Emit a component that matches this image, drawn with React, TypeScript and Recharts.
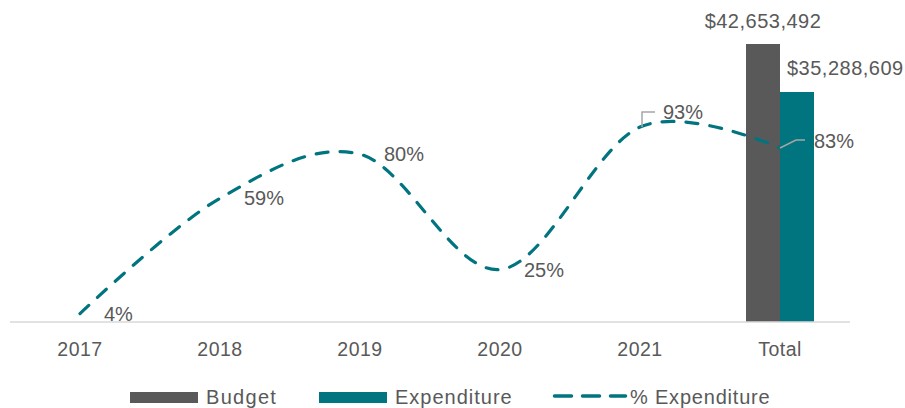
import React from 'react';
import { ComposedChart, Bar, Line, XAxis, YAxis, Legend, LabelList } from 'recharts';

const categories = ['2017', '2018', '2019', '2020', '2021', 'Total'];
const budget: (number | null)[] = [null, null, null, null, null, 42653492];
const expenditure: (number | null)[] = [null, null, null, null, null, 35288609];
const pctExpenditure = [4, 59, 80, 25, 93, 83];
const seriesNames = ['Budget', 'Expenditure', '% Expenditure'];

const data = categories.map((c, i) => ({
  category: c,
  budget: budget[i],
  expenditure: expenditure[i],
  pct: pctExpenditure[i],
}));

const FONT = "'Liberation Sans', Arial, sans-serif";
const TEXT = '#595959';
const GREY = '#595959';
const TEAL = '#00747F';

// Excel-like smoothed line (cardinal spline, tension 0)
function smoothCurve(context: any) {
  let x0 = NaN, x1 = NaN, x2 = NaN, y0 = NaN, y1 = NaN, y2 = NaN;
  let pt = 0;
  let line: number = NaN;
  const k = 1 / 6;
  const seg = (x: number, y: number) => {
    context.bezierCurveTo(
      x1 + k * (x2 - x0),
      y1 + k * (y2 - y0),
      x2 + k * (x1 - x),
      y2 + k * (y1 - y),
      x2,
      y2
    );
  };
  return {
    areaStart() { line = 0; },
    areaEnd() { line = NaN; },
    lineStart() { x0 = x1 = x2 = y0 = y1 = y2 = NaN; pt = 0; },
    lineEnd() {
      switch (pt) {
        case 2: context.lineTo(x2, y2); break;
        case 3: seg(x1, y1); break;
      }
      if (line || (line !== 0 && pt === 1)) context.closePath();
      line = 1 - line;
    },
    point(x: number, y: number) {
      x = +x; y = +y;
      switch (pt) {
        case 0: pt = 1; line ? context.lineTo(x, y) : context.moveTo(x, y); break;
        case 1: pt = 2; x1 = x; y1 = y; break;
        case 2: pt = 3; seg(x, y); break;
        default: seg(x, y); break;
      }
      x0 = x1; x1 = x2; x2 = x;
      y0 = y1; y1 = y2; y2 = y;
    },
  };
}

const money = (v: number) => '$' + v.toLocaleString('en-US');

const BudgetLabel = (props: any) => {
  const { x, y, width, value } = props;
  if (value == null) return null;
  return (
    <text x={x + width / 2} y={y - 23} dy="0.35em" textAnchor="middle" fill={TEXT}
      fontFamily={FONT} fontSize={20} letterSpacing={0.5}>
      {money(value)}
    </text>
  );
};

const ExpLabel = (props: any) => {
  const { x, y, value } = props;
  if (value == null) return null;
  return (
    <text x={x + 7} y={y - 24} dy="0.35em" textAnchor="start" fill={TEXT}
      fontFamily={FONT} fontSize={20} letterSpacing={0.5}>
      {money(value)}
    </text>
  );
};

const PctLabel = (props: any) => {
  const { x, y, value, index } = props;
  const txt = `${value}%`;
  const common = { fill: TEXT, fontFamily: FONT, fontSize: 20, dy: '0.35em' } as any;
  if (index === 4) {
    return (
      <g>
        <path d={`M${x + 2},${y} V${y - 15} H${x + 15}`} stroke="#A6A6A6" strokeWidth={1.5} fill="none" />
        <text x={x + 23} y={y - 15} {...common}>{txt}</text>
      </g>
    );
  }
  if (index === 5) {
    return (
      <g>
        <path d={`M${x},${y} L${x + 16},${y - 8} H${x + 25}`} stroke="#A6A6A6" strokeWidth={1.5} fill="none" />
        <text x={x + 34} y={y - 7} {...common}>{txt}</text>
      </g>
    );
  }
  return <text x={x + 24} y={y} {...common}>{txt}</text>;
};

const renderLegend = () => (
  <div style={{ width: 905, height: 22, position: 'relative' }}>
    <svg width={905} height={22} style={{ display: 'block' }}>
      <rect x={130} y={6} width={68} height={11} fill={GREY} />
      <text x={206} y={17.5} fill={TEXT} fontFamily={FONT} fontSize={20} letterSpacing={1.3}>{seriesNames[0]}</text>
      <rect x={319} y={6} width={68} height={11} fill={TEAL} />
      <text x={395} y={17.5} fill={TEXT} fontFamily={FONT} fontSize={20} letterSpacing={1}>{seriesNames[1]}</text>
      <line x1={554.5} x2={625.5} y1={10} y2={10} stroke={TEAL} strokeWidth={3.5}
        strokeDasharray="17 11" strokeLinecap="round" />
      <text x={630} y={17.5} fill={TEXT} fontFamily={FONT} fontSize={20} letterSpacing={0.8}>{seriesNames[2]}</text>
    </svg>
  </div>
);

export default function App() {
  return (
    <div style={{ position: 'absolute', left: 0, top: 0, width: 905, height: 408, background: '#fff' }}>
      <ComposedChart width={905} height={408} data={data}
        margin={{ top: 7.5, right: 55, bottom: 0, left: 10 }} barGap={0}>
        <XAxis dataKey="category" axisLine={{ stroke: '#D9D9D9', strokeWidth: 1.5 }} tickLine={false}
          tickSize={0} tickMargin={20} height={64} interval={0}
          tick={{ fill: TEXT, fontSize: 19.5, fontFamily: FONT, letterSpacing: 0.5 }} />
        <YAxis yAxisId="left" hide domain={[0, 48250000]} allowDataOverflow />
        <YAxis yAxisId="right" orientation="right" hide domain={[0, 150]} allowDataOverflow />
        <Bar yAxisId="left" dataKey="budget" name={seriesNames[0]} fill={GREY} barSize={34} isAnimationActive={false}>
          <LabelList dataKey="budget" content={BudgetLabel} />
        </Bar>
        <Bar yAxisId="left" dataKey="expenditure" name={seriesNames[1]} fill={TEAL} barSize={34} isAnimationActive={false}>
          <LabelList dataKey="expenditure" content={ExpLabel} />
        </Bar>
        <Line yAxisId="right" dataKey="pct" name={seriesNames[2]} type={smoothCurve as any} stroke={TEAL}
          strokeWidth={3.2} strokeDasharray="12 12" strokeLinecap="round" dot={false} activeDot={false}
          isAnimationActive={false}>
          <LabelList dataKey="pct" content={PctLabel} />
        </Line>
        <Legend verticalAlign="bottom" align="left" content={renderLegend}
          wrapperStyle={{ left: 0, width: 905, height: 22 }} />
      </ComposedChart>
    </div>
  );
}
